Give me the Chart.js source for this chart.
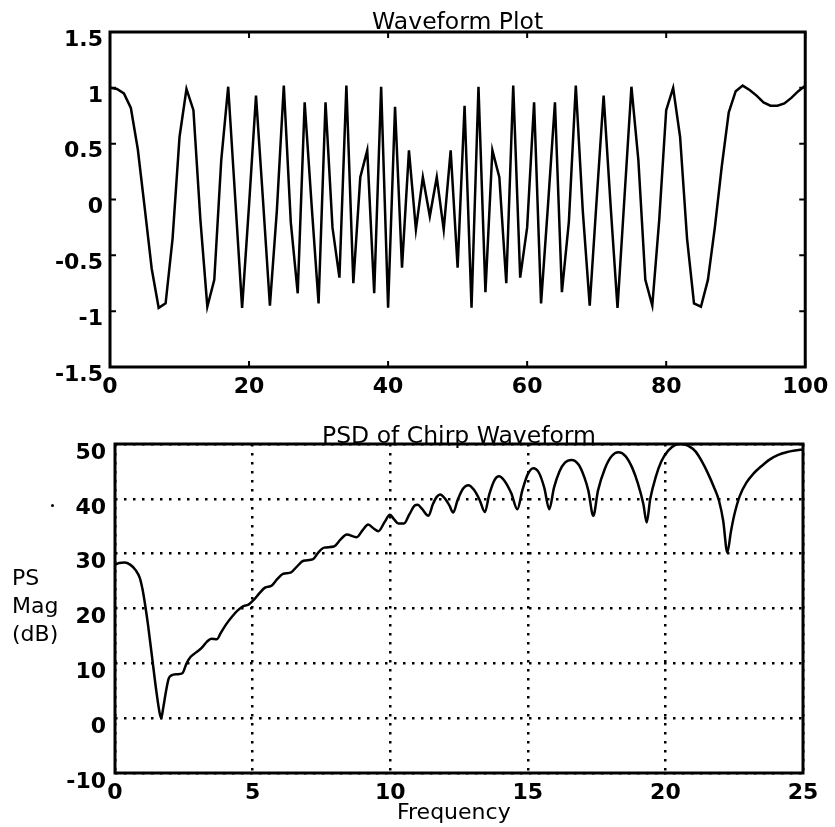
<!DOCTYPE html>
<html>
<head>
<meta charset="utf-8">
<script src="https://cdn.jsdelivr.net/npm/chart.js@4.4.1/dist/chart.umd.min.js"></script>
<style>
  html, body { margin: 0; padding: 0; background: #fff; }
  #wrap { position: relative; width: 835px; height: 827px; font-family: 'DejaVu Sans', sans-serif; color: #000; }
  canvas { position: absolute; left: 0; }
  #top { top: 0; }
  #bottom { top: 400px; }
  .lbl { position: absolute; font-size: 22px; line-height: 28px; }
  #ylab { left: 12px; top: 564px; }
  #xlab { left: 397px; top: 801px; line-height: 22px; }
  #speck { position: absolute; left: 51px; top: 504px; width: 3px; height: 3px; background: #000; border-radius: 50%; }
</style>
</head>
<body>
<div id="wrap">
  <canvas id="top" width="835" height="400"></canvas>
  <canvas id="bottom" width="835" height="427"></canvas>
  <div class="lbl" id="ylab">PS<br>Mag<br>(dB)</div>
  <div class="lbl" id="xlab">Frequency</div>
  <div id="speck"></div>
</div>
<script>
// top plot: sample index vs amplitude
const waveTime = Array.from({ length: 101 }, (_, i) => i);
const waveAmp = [
  1.00, 0.99, 0.95, 0.82, 0.45, -0.08, -0.62, -0.97, -0.93, -0.35,
  0.56, 0.99, 0.80, -0.18, -0.96, -0.72, 0.35, 1.01, 0.02, -0.97,
  -0.05, 0.93, 0.00, -0.95, -0.10, 1.02, -0.20, -0.84, 0.87, -0.05,
  -0.93, 0.87, -0.25, -0.70, 1.02, -0.75, 0.20, 0.44, -0.84, 1.01,
  -0.97, 0.83, -0.61, 0.44, -0.27, 0.20, -0.15, 0.20, -0.27, 0.44,
  -0.61, 0.84, -0.97, 1.01, -0.83, 0.44, 0.20, -0.75, 1.02, -0.70,
  -0.25, 0.87, -0.93, -0.05, 0.87, -0.83, -0.20, 1.02, -0.10, -0.95,
  0.00, 0.93, -0.05, -0.97, 0.02, 1.01, 0.35, -0.72, -0.95, -0.18,
  0.80, 1.00, 0.56, -0.35, -0.93, -0.96, -0.72, -0.25, 0.30, 0.78,
  0.97, 1.02, 0.98, 0.93, 0.87, 0.84, 0.84, 0.86, 0.91, 0.97,
  1.02
];
const waveXTicks = [0, 20, 40, 60, 80, 100];
const waveYTicks = [-1.5, -1, -0.5, 0, 0.5, 1, 1.5];

// bottom plot: frequency vs PSD magnitude (dB)
const psdFreq = [
  0.00, 0.15, 0.35, 0.55, 0.75, 0.90, 1.00, 1.10, 1.20, 1.35,
  1.50, 1.62, 1.68, 1.75, 1.85, 1.95, 2.05, 2.25, 2.45, 2.60,
  2.75, 2.95, 3.15, 3.35, 3.50, 3.70, 3.85, 4.05, 4.25, 4.45,
  4.65, 4.85, 5.05, 5.25, 5.45, 5.70, 5.90, 6.10, 6.40, 6.60,
  6.85, 7.20, 7.40, 7.60, 7.95, 8.20, 8.42, 8.78, 9.00, 9.20,
  9.40, 9.57, 9.80, 9.99, 10.15, 10.30, 10.50, 10.70, 10.90, 11.00,
  11.15, 11.39, 11.55, 11.70, 11.81, 12.00, 12.15, 12.29, 12.45, 12.65,
  12.84, 13.05, 13.25, 13.44, 13.60, 13.80, 13.95, 14.15, 14.40, 14.62,
  14.80, 15.00, 15.20, 15.40, 15.60, 15.78, 15.95, 16.15, 16.35, 16.59,
  16.85, 17.05, 17.20, 17.38, 17.55, 17.80, 18.05, 18.29, 18.55, 18.80,
  19.00, 19.20, 19.32, 19.45, 19.65, 19.85, 20.10, 20.35, 20.60, 20.85,
  21.10, 21.35, 21.55, 21.75, 21.95, 22.10, 22.25, 22.38, 22.50, 22.70,
  22.95, 23.20, 23.50, 23.80, 24.10, 24.40, 24.70, 25.00
];
const psdMag = [
  28.0, 28.3, 28.4, 28.0, 27.0, 25.6, 23.5, 20.5, 17.0, 11.0,
  5.0, 1.0, 0.0, 1.8, 4.8, 7.2, 7.8, 8.0, 8.2, 10.0,
  11.2, 12.0, 12.8, 14.0, 14.5, 14.4, 15.6, 17.2, 18.5, 19.6,
  20.4, 20.7, 21.6, 22.8, 23.8, 24.2, 25.4, 26.3, 26.6, 27.6,
  28.7, 29.0, 30.3, 31.1, 31.3, 32.6, 33.5, 33.0, 34.3, 35.3,
  34.6, 34.1, 35.8, 37.1, 36.2, 35.5, 35.5, 37.2, 38.8, 38.9,
  38.2, 36.9, 39.0, 40.4, 40.8, 40.0, 38.8, 37.5, 39.8, 41.9,
  42.5, 41.6, 39.8, 37.6, 40.8, 43.5, 44.1, 43.3, 41.0, 38.1,
  41.5, 44.5, 45.6, 44.8, 42.0, 38.1, 42.0, 45.0, 46.6, 47.1,
  46.2, 44.0, 41.5, 36.9, 41.5, 45.5, 47.8, 48.5, 47.8, 45.6,
  42.8, 39.0, 35.7, 40.0, 44.0, 46.8, 48.8, 49.8, 50.0, 49.6,
  48.6, 46.6, 44.6, 42.3, 39.6, 36.0, 30.2, 34.0, 37.0, 40.5,
  43.0, 44.6, 46.0, 47.2, 48.0, 48.5, 48.8, 49.0
];
const psdXTicks = [0, 5, 10, 15, 20, 25];
const psdYTicks = [-10, 0, 10, 20, 30, 40, 50];

const FONT = "'DejaVu Sans', sans-serif";
const tickFont = { family: FONT, size: 22, weight: 'bold' };
const titleFont = { family: FONT, size: 23.5, weight: 'normal' };

// solid box round the plot area, optional inward tick marks
const frame = {
	id: 'frame',
	afterDatasetsDraw(chart, args, opts) {
		const { ctx, chartArea: a, scales: { x, y } } = chart;
		ctx.save();
		ctx.strokeStyle = '#000';
		if (opts.ticks) {
			const len = 6;
			ctx.lineWidth = 2;
			ctx.beginPath();
			x.ticks.forEach(t => {
				const px = x.getPixelForValue(t.value);
				ctx.moveTo(px, a.bottom); ctx.lineTo(px, a.bottom - len);
				ctx.moveTo(px, a.top); ctx.lineTo(px, a.top + len);
			});
			y.ticks.forEach(t => {
				const py = y.getPixelForValue(t.value);
				ctx.moveTo(a.left, py); ctx.lineTo(a.left + len, py);
				ctx.moveTo(a.right, py); ctx.lineTo(a.right - len, py);
			});
			ctx.stroke();
		}
		ctx.lineWidth = 3;
		ctx.strokeRect(a.left, a.top, a.right - a.left, a.bottom - a.top);
		ctx.restore();
	}
};

const setTicks = list => scale => { scale.ticks = list.map(v => ({ value: v })); };

new Chart(document.getElementById('top'), {
	type: 'line',
	data: {
		datasets: [{
			data: waveTime.map((t, i) => ({ x: t, y: waveAmp[i] })),
			borderColor: '#000',
			borderWidth: 2.5,
			pointRadius: 0,
			tension: 0,
		}],
	},
	options: {
		responsive: false,
		animation: false,
		events: [],
		layout: { padding: { left: 0, right: 28, top: 0, bottom: 0 } },
		plugins: {
			legend: { display: false },
			tooltip: { enabled: false },
			title: {
				display: true, text: 'Waveform Plot', color: '#000',
				font: titleFont, fullSize: false,
				padding: { top: 8.8, bottom: -5 },
			},
			frame: { ticks: true },
		},
		scales: {
			x: {
				type: 'linear', min: 0, max: 100,
				afterBuildTicks: setTicks(waveXTicks),
				afterFit: s => { s.height = 33; },
				grid: { display: false, drawTicks: false },
				border: { display: false },
				ticks: { color: '#000', font: tickFont, padding: 6.8, maxRotation: 0, autoSkip: false, callback: v => String(v) },
			},
			y: {
				type: 'linear', min: -1.5, max: 1.5,
				afterBuildTicks: setTicks(waveYTicks),
				afterFit: s => { s.width = 110; },
				grid: { display: false, drawTicks: false },
				border: { display: false },
				ticks: { color: '#000', font: tickFont, padding: 7, labelOffset: 8, autoSkip: false, callback: v => String(v) },
			},
		},
	},
	plugins: [frame],
});

new Chart(document.getElementById('bottom'), {
	type: 'line',
	data: {
		datasets: [{
			data: psdFreq.map((f, i) => ({ x: f, y: psdMag[i] })),
			borderColor: '#000',
			borderWidth: 2.5,
			pointRadius: 0,
			cubicInterpolationMode: 'monotone',
		}],
	},
	options: {
		responsive: false,
		animation: false,
		events: [],
		layout: { padding: { left: 0, right: 32, top: 0, bottom: 0 } },
		plugins: {
			legend: { display: false },
			tooltip: { enabled: false },
			title: {
				display: true, text: 'PSD of Chirp Waveform', color: '#000',
				font: titleFont, fullSize: false,
				padding: { top: 22.3, bottom: -6.5 },
			},
			frame: { ticks: false },
		},
		scales: {
			x: {
				type: 'linear', min: 0, max: 25,
				afterBuildTicks: setTicks(psdXTicks),
				afterFit: s => { s.height = 54; },
				grid: { color: '#000', lineWidth: 2.5, drawTicks: false },
				border: { display: false, dash: [2.5, 6.5] },
				ticks: { color: '#000', font: tickFont, padding: 6.8, maxRotation: 0, autoSkip: false, callback: v => String(v) },
			},
			y: {
				type: 'linear', min: -10, max: 50,
				afterBuildTicks: setTicks(psdYTicks),
				afterFit: s => { s.width = 115; },
				grid: { color: '#000', lineWidth: 2.5, drawTicks: false },
				border: { display: false, dash: [2.5, 6.5] },
				ticks: { color: '#000', font: tickFont, padding: 9, labelOffset: 9, autoSkip: false, callback: v => String(v) },
			},
		},
	},
	plugins: [frame],
});
</script>
</body>
</html>
